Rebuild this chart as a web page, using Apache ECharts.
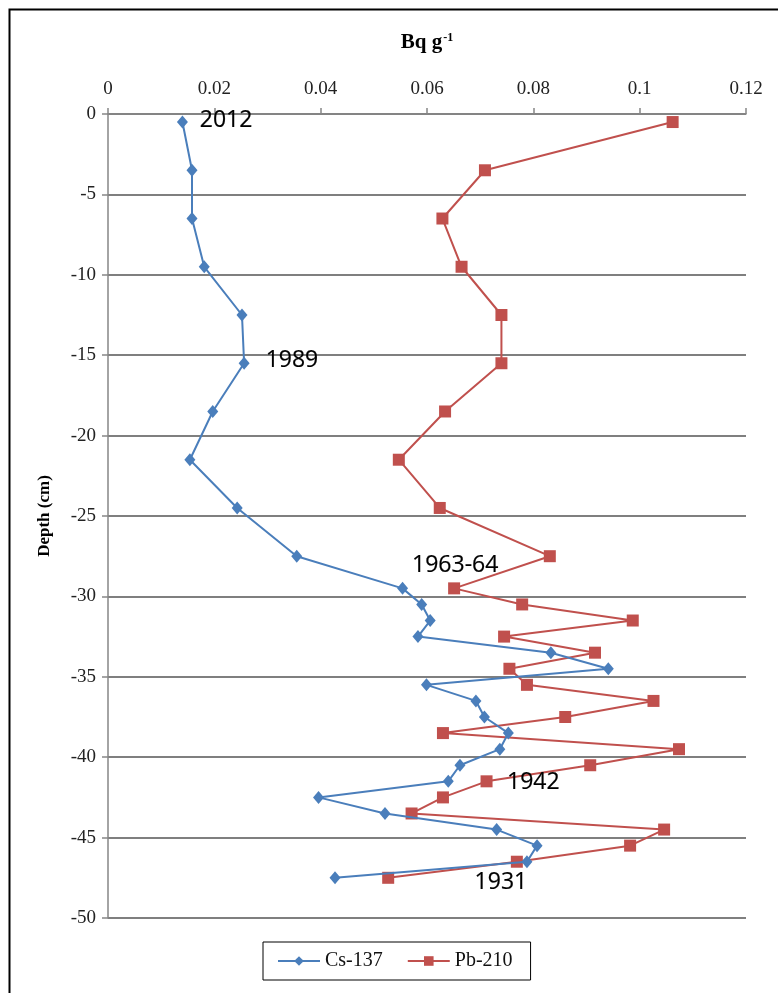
<!DOCTYPE html>
<html>
<head>
<meta charset="utf-8">
<script src="https://cdn.jsdelivr.net/npm/echarts@6/dist/echarts.min.js"></script>
<style>
  html, body { margin: 0; padding: 0; background: #fff; }
  #chart { width: 778px; height: 993px; }
</style>
</head>
<body>
<div id="chart"></div>
<script>
// depth of each sample (cm)
const depths = [-0.5, -3.5, -6.5, -9.5, -12.5, -15.5, -18.5, -21.5, -24.5, -27.5,
  -29.5, -30.5, -31.5, -32.5, -33.5, -34.5, -35.5, -36.5, -37.5, -38.5,
  -39.5, -40.5, -41.5, -42.5, -43.5, -44.5, -45.5, -46.5, -47.5]

// activity, Bq g-1
const cs137 = [0.0140, 0.0158, 0.0158, 0.0181, 0.0252, 0.0256, 0.0197, 0.0154, 0.0243, 0.0355,
  0.0554, 0.0590, 0.0606, 0.0583, 0.0833, 0.0941, 0.0599, 0.0692, 0.0708, 0.0753,
  0.0737, 0.0662, 0.0640, 0.0396, 0.0521, 0.0731, 0.0807, 0.0788, 0.0427]

const pb210 = [0.1062, 0.0709, 0.0629, 0.0665, 0.0740, 0.0740, 0.0634, 0.0547, 0.0624, 0.0831,
  0.0651, 0.0779, 0.0987, 0.0745, 0.0916, 0.0755, 0.0788, 0.1026, 0.0860, 0.0630,
  0.1074, 0.0907, 0.0712, 0.0630, 0.0571, 0.1046, 0.0982, 0.0769, 0.0527]

// dating labels placed in data space
const dateLabels = ['2012', '1989', '1963-64', '1942', '1931']
const dateLabelX = [0.0222, 0.0346, 0.0653, 0.0800, 0.0739]
const dateLabelDepth = [-0.4, -15.35, -28.1, -41.55, -47.8]

const chart = echarts.init(document.getElementById('chart'))

const serif = '"Liberation Serif", "Times New Roman", serif'
const pair = (xs) => xs.map((v, i) => [v, depths[i]])

const option = {
  backgroundColor: '#fff',
  animation: false,
  graphic: [
    {
      type: 'rect',
      left: 7, top: 7,
      shape: { width: 790, height: 1000 },
      style: { fill: 'none', stroke: '#000', lineWidth: 2 },
      silent: true
    }
  ],
  grid: { left: 108, right: 32, top: 114, bottom: 75 },
  legend: {
    left: 263,
    top: 942,
    padding: [9, 18, 9, 14],
    itemGap: 24,
    itemWidth: 42,
    itemHeight: 12,
    borderColor: '#000',
    borderWidth: 1,
    data: ['Cs-137', 'Pb-210'],
    textStyle: { fontFamily: serif, fontSize: 20, color: '#111' }
  },
  xAxis: {
    type: 'value',
    position: 'top',
    min: 0,
    max: 0.12,
    interval: 0.02,
    name: '{b|Bq g}{s|-1}',
    nameLocation: 'middle',
    nameGap: 60,
    nameTextStyle: {
      rich: {
        b: { fontFamily: serif, fontWeight: 'bold', fontSize: 21, color: '#000' },
        s: { fontFamily: serif, fontWeight: 'bold', fontSize: 12, color: '#000', verticalAlign: 'top', padding: [0, 0, 10, 1] }
      }
    },
    axisLine: { show: true, lineStyle: { color: '#868686', width: 1.5 } },
    axisTick: { show: true, inside: false, length: 6, lineStyle: { color: '#868686', width: 1.5 } },
    axisLabel: {
      margin: 15,
      fontFamily: serif,
      fontSize: 19,
      color: '#222',
      formatter: (v) => String(+v.toFixed(2))
    },
    splitLine: { show: false }
  },
  yAxis: {
    type: 'value',
    min: -50,
    max: 0,
    interval: 5,
    name: 'Depth (cm)',
    nameLocation: 'middle',
    nameGap: 55,
    nameTextStyle: { fontFamily: serif, fontWeight: 'bold', fontSize: 17, color: '#000' },
    axisLine: { show: true, lineStyle: { color: '#868686', width: 1.5 } },
    axisTick: { show: true, length: 6, lineStyle: { color: '#868686', width: 1.5 } },
    axisLabel: { margin: 12, fontFamily: serif, fontSize: 19, color: '#222' },
    splitLine: { show: true, lineStyle: { color: '#7f7f7f', width: 2 } }
  },
  series: [
    {
      name: 'Cs-137',
      type: 'line',
      data: pair(cs137),
      symbol: 'diamond',
      symbolSize: [11, 13],
      color: '#4a7ebb',
      lineStyle: { color: '#4a7ebb', width: 2 },
      itemStyle: { color: '#4a7ebb' },
      z: 3,
      // dating annotations
      markPoint: {
        silent: true,
        symbol: 'circle',
        symbolSize: 0,
        itemStyle: { color: '#fff', opacity: 0 },
        label: {
          show: true,
          position: 'inside',
          formatter: (p) => p.name,
          fontFamily: '"Open Sans", Lato, sans-serif',
          fontSize: 23,
          color: '#000',
          opacity: 1,
          textBorderColor: '#000',
          textBorderWidth: 0.2
        },
        data: dateLabels.map((t, i) => ({ name: t, coord: [dateLabelX[i], dateLabelDepth[i]] }))
      }
    },
    {
      name: 'Pb-210',
      type: 'line',
      data: pair(pb210),
      symbol: 'rect',
      symbolSize: 12,
      color: '#c0504d',
      lineStyle: { color: '#c0504d', width: 2 },
      itemStyle: { color: '#c0504d' },
      z: 2
    }
  ]
}

chart.setOption(option)
</script>
</body>
</html>
